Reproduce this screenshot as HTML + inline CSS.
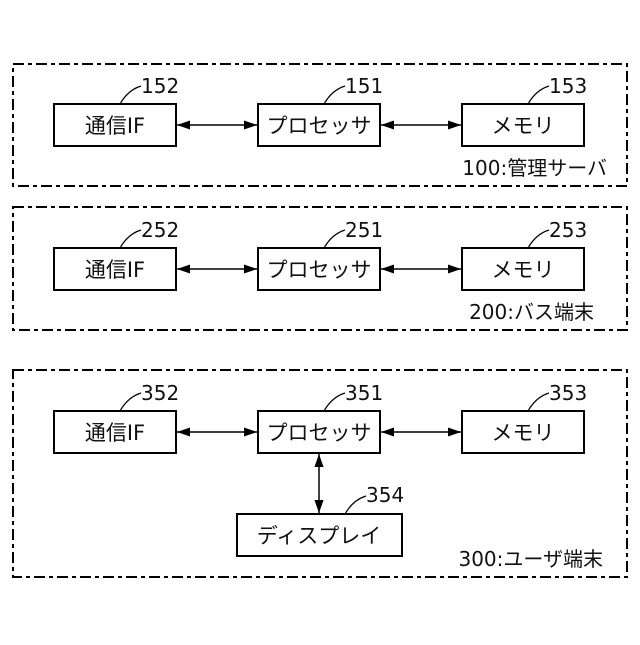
<!DOCTYPE html>
<html><head><meta charset="utf-8"><style>
body{margin:0;background:#fff}
text{font-family:"DejaVu Sans","Noto Sans CJK JP",sans-serif;fill:#111}
</style></head><body>
<svg width="640" height="640" viewBox="0 0 640 640" xmlns="http://www.w3.org/2000/svg">
<defs>
<marker id="a" viewBox="0 0 10 10" refX="10" refY="5" markerWidth="10" markerHeight="10" orient="auto-start-reverse" markerUnits="userSpaceOnUse"><path d="M0,1.5 L10,5 L0,8.5z" fill="#000"/></marker>
<marker id="b" viewBox="0 0 10 10" refX="10" refY="5" markerWidth="13" markerHeight="13" orient="auto-start-reverse" markerUnits="userSpaceOnUse"><path d="M0,1.5 L10,5 L0,8.5z" fill="#000"/></marker>
</defs>
<g fill="none" stroke="#000" stroke-width="2" stroke-dasharray="11 4 4 4">
<rect x="13" y="64" width="614" height="122"/>
<rect x="13" y="207" width="614" height="123"/>
<rect x="13" y="370" width="614" height="207"/>
</g>
<g fill="#fff" stroke="#000" stroke-width="2">
<rect x="54" y="104" width="122" height="42"/><rect x="258" y="104" width="122" height="42"/><rect x="462" y="104" width="122" height="42"/>
<rect x="54" y="248" width="122" height="42"/><rect x="258" y="248" width="122" height="42"/><rect x="462" y="248" width="122" height="42"/>
<rect x="54" y="411" width="122" height="42"/><rect x="258" y="411" width="122" height="42"/><rect x="462" y="411" width="122" height="42"/>
<rect x="237" y="514" width="165" height="42"/>
</g>
<g stroke="#000" stroke-width="1.5" marker-start="url(#b)" marker-end="url(#b)">
<line x1="177" y1="125" x2="257" y2="125"/><line x1="381" y1="125" x2="461" y2="125"/>
<line x1="177" y1="269" x2="257" y2="269"/><line x1="381" y1="269" x2="461" y2="269"/>
<line x1="177" y1="432" x2="257" y2="432"/><line x1="381" y1="432" x2="461" y2="432"/>
<line x1="319" y1="454" x2="319" y2="513"/>
</g>
<g fill="none" stroke="#000" stroke-width="1.2">
<path d="M120,104 Q128,90 141,86"/><path d="M324,104 Q332,90 345,86"/><path d="M528,104 Q536,90 549,86"/>
<path d="M120,248 Q128,234 141,230"/><path d="M324,248 Q332,234 345,230"/><path d="M528,248 Q536,234 549,230"/>
<path d="M120,411 Q128,397 141,393"/><path d="M324,411 Q332,397 345,393"/><path d="M528,411 Q536,397 549,393"/>
<path d="M345,514 Q353,500 366,496"/>
</g>
<g font-size="20">
<text x="141" y="93">152</text><text x="345" y="93">151</text><text x="549" y="93">153</text>
<text x="141" y="237">252</text><text x="345" y="237">251</text><text x="549" y="237">253</text>
<text x="141" y="400">352</text><text x="345" y="400">351</text><text x="549" y="400">353</text>
<text x="366" y="502">354</text>
</g>
<g font-size="21" text-anchor="middle">
<text x="115" y="133">通信IF</text><text x="319" y="133">プロセッサ</text><text x="523" y="133">メモリ</text>
<text x="115" y="277">通信IF</text><text x="319" y="277">プロセッサ</text><text x="523" y="277">メモリ</text>
<text x="115" y="440">通信IF</text><text x="319" y="440">プロセッサ</text><text x="523" y="440">メモリ</text>
<text x="319" y="543">ディスプレイ</text>
</g>
<g font-size="20" text-anchor="end">
<text x="607" y="175">100:管理サーバ</text>
<text x="594" y="319">200:バス端末</text>
<text x="603" y="566">300:ユーザ端末</text>
</g>
</svg>
</body></html>
